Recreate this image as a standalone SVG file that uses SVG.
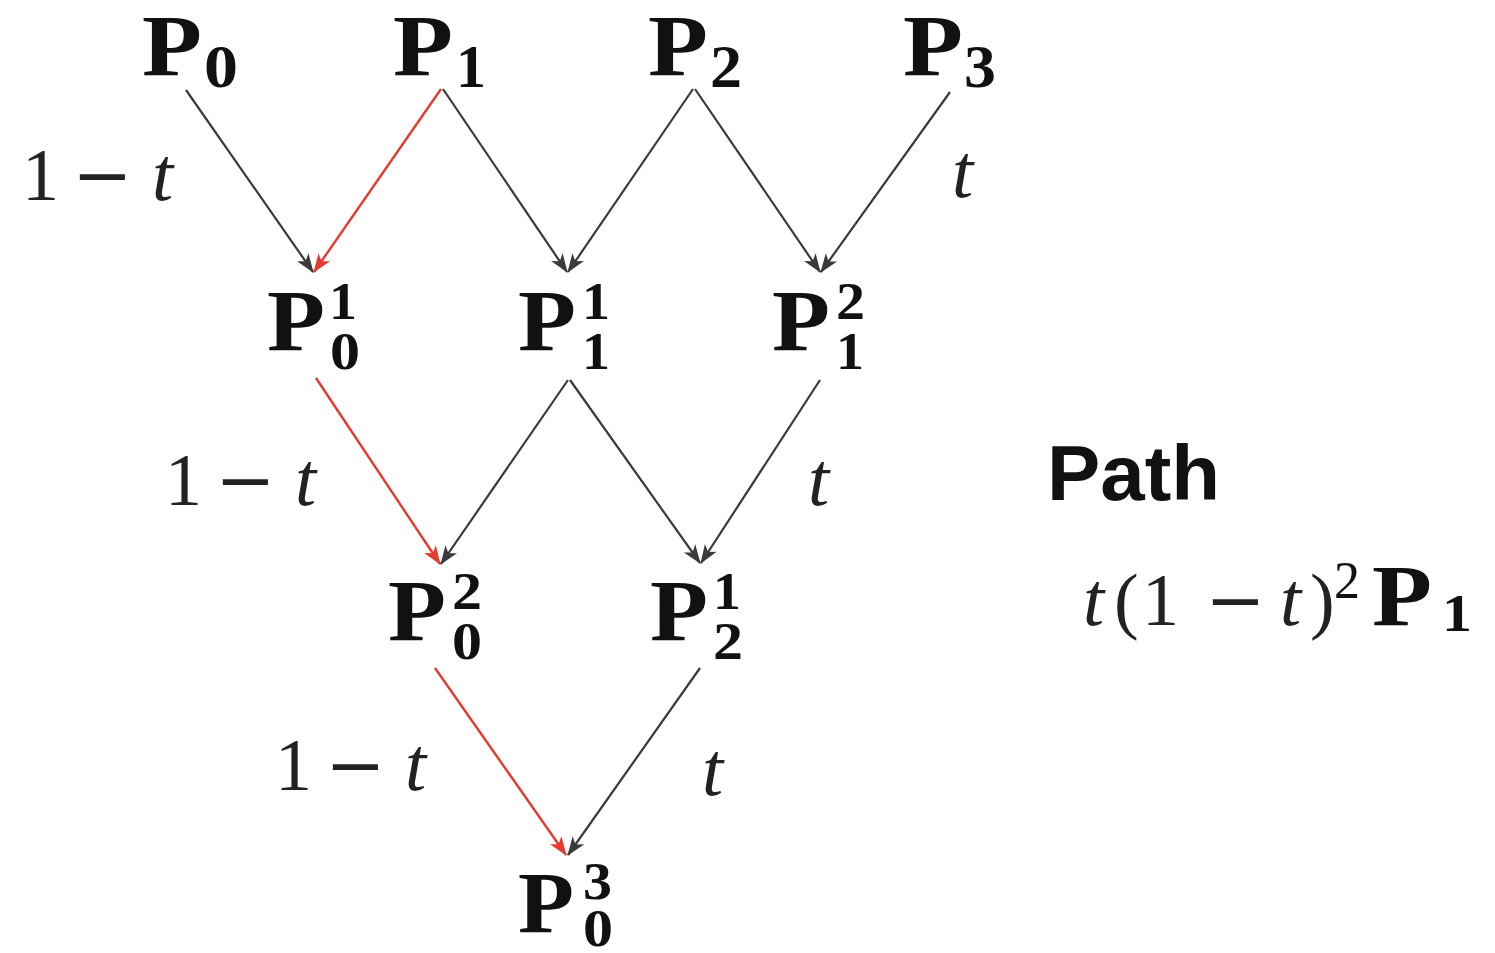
<svg xmlns="http://www.w3.org/2000/svg" width="1495" height="953" viewBox="0 0 1495 953">
<style>
.P{font-family:"Liberation Serif","Times New Roman",serif;font-weight:bold;font-size:86px;fill:#111}
.s{font-family:"Liberation Serif","Times New Roman",serif;font-weight:bold;font-size:52px;fill:#111}
.s0{font-family:"Liberation Serif","Times New Roman",serif;font-weight:bold;font-size:62px;fill:#111}
.n{font-family:"Liberation Serif","Times New Roman",serif;font-size:74px;fill:#222}
.it{font-family:"Liberation Serif","Times New Roman",serif;font-style:italic;font-size:76px;fill:#222}
.m{font-family:"DejaVu Serif",serif;font-size:72px;fill:#222}
.ttl{font-family:"Liberation Sans",Arial,sans-serif;font-weight:bold;font-size:77px;fill:#111}
.k{stroke:#3a3a3a;stroke-width:2.2;fill:none}
.r{stroke:#e53a2e;stroke-width:2.4;fill:none}
</style>
<defs>
<marker id="ak" markerUnits="userSpaceOnUse" markerWidth="20" markerHeight="16" viewBox="0 0 20 16" refX="18" refY="8" orient="auto">
<path d="M0,1 L19,8 L0,15 L5,8 z" fill="#3a3a3a"/>
</marker>
<marker id="ar" markerUnits="userSpaceOnUse" markerWidth="20" markerHeight="16" viewBox="0 0 20 16" refX="18" refY="8" orient="auto">
<path d="M0,1 L19,8 L0,15 L5,8 z" fill="#e53a2e"/>
</marker>
</defs>
<g id="connectors">
<line class="k" x1="186" y1="90" x2="313" y2="272" marker-end="url(#ak)"/>
<line class="r" x1="441" y1="89" x2="314" y2="272" marker-end="url(#ar)"/>
<line class="k" x1="443" y1="89" x2="567" y2="272" marker-end="url(#ak)"/>
<line class="k" x1="693" y1="89" x2="568" y2="272" marker-end="url(#ak)"/>
<line class="k" x1="695" y1="89" x2="820" y2="272" marker-end="url(#ak)"/>
<line class="k" x1="950" y1="92" x2="821" y2="272" marker-end="url(#ak)"/>
<line class="r" x1="316" y1="378" x2="440" y2="564" marker-end="url(#ar)"/>
<line class="k" x1="568" y1="380" x2="441" y2="564" marker-end="url(#ak)"/>
<line class="k" x1="570" y1="380" x2="700" y2="563" marker-end="url(#ak)"/>
<line class="k" x1="820" y1="380" x2="701" y2="563" marker-end="url(#ak)"/>
<line class="r" x1="435" y1="668" x2="566" y2="855" marker-end="url(#ar)"/>
<line class="k" x1="700" y1="668" x2="568" y2="855" marker-end="url(#ak)"/>
</g>
<g id="P0"><text class="P" x="142" y="75" textLength="60" lengthAdjust="spacingAndGlyphs">P</text><text class="s0" x="204" y="87" textLength="34" lengthAdjust="spacingAndGlyphs">0</text></g>
<g id="P1"><text class="P" x="393" y="75" textLength="60" lengthAdjust="spacingAndGlyphs">P</text><text class="s0" x="456" y="87" textLength="30" lengthAdjust="spacingAndGlyphs">1</text></g>
<g id="P2"><text class="P" x="648" y="75" textLength="60" lengthAdjust="spacingAndGlyphs">P</text><text class="s0" x="710" y="87" textLength="32" lengthAdjust="spacingAndGlyphs">2</text></g>
<g id="P3"><text class="P" x="903" y="75" textLength="60" lengthAdjust="spacingAndGlyphs">P</text><text class="s0" x="964" y="87" textLength="32" lengthAdjust="spacingAndGlyphs">3</text></g>
<g id="P01"><text class="P" x="267" y="350" textLength="58" lengthAdjust="spacingAndGlyphs">P</text><text class="s" x="329" y="319" textLength="28" lengthAdjust="spacingAndGlyphs">1</text><text class="s" x="330" y="369" textLength="30" lengthAdjust="spacingAndGlyphs">0</text></g>
<g id="P11"><text class="P" x="518" y="350" textLength="58" lengthAdjust="spacingAndGlyphs">P</text><text class="s" x="582" y="319" textLength="28" lengthAdjust="spacingAndGlyphs">1</text><text class="s" x="582" y="369" textLength="28" lengthAdjust="spacingAndGlyphs">1</text></g>
<g id="P12"><text class="P" x="772" y="350" textLength="58" lengthAdjust="spacingAndGlyphs">P</text><text class="s" x="836" y="319" textLength="29" lengthAdjust="spacingAndGlyphs">2</text><text class="s" x="836" y="369" textLength="28" lengthAdjust="spacingAndGlyphs">1</text></g>
<g id="P02"><text class="P" x="388" y="640" textLength="58" lengthAdjust="spacingAndGlyphs">P</text><text class="s" x="452" y="609" textLength="30" lengthAdjust="spacingAndGlyphs">2</text><text class="s" x="452" y="659" textLength="30" lengthAdjust="spacingAndGlyphs">0</text></g>
<g id="P21"><text class="P" x="650" y="640" textLength="58" lengthAdjust="spacingAndGlyphs">P</text><text class="s" x="713" y="609" textLength="28" lengthAdjust="spacingAndGlyphs">1</text><text class="s" x="713" y="659" textLength="30" lengthAdjust="spacingAndGlyphs">2</text></g>
<g id="P03"><text class="P" x="518" y="932" textLength="56" lengthAdjust="spacingAndGlyphs">P</text><text class="s" x="583" y="899" textLength="29" lengthAdjust="spacingAndGlyphs">3</text><text class="s" x="583" y="946" textLength="30" lengthAdjust="spacingAndGlyphs">0</text></g>
<g id="labels">
<text x="22" y="200"><tspan class="n">1</tspan><tspan class="m" x="72">−</tspan><tspan class="it" x="152">t</tspan></text>
<text class="it" x="952" y="197">t</text>
<text x="165" y="505"><tspan class="n">1</tspan><tspan class="m" x="215">−</tspan><tspan class="it" x="295">t</tspan></text>
<text class="it" x="808" y="505">t</text>
<text x="275" y="790"><tspan class="n">1</tspan><tspan class="m" x="325">−</tspan><tspan class="it" x="405">t</tspan></text>
<text class="it" x="702" y="795">t</text>
</g>
<g id="path-note">
<text class="ttl" x="1047" y="500" textLength="173" lengthAdjust="spacingAndGlyphs">Path</text>
<text y="625"><tspan class="it" x="1083">t</tspan><tspan class="n" x="1114">(</tspan><tspan class="n" x="1142">1</tspan><tspan class="m" x="1205">−</tspan><tspan class="it" x="1280">t</tspan><tspan class="n" x="1310">)</tspan></text>
<text class="s" x="1334" y="598" style="font-weight:normal">2</text>
<text class="P" x="1372" y="625" textLength="60" lengthAdjust="spacingAndGlyphs">P</text>
<text class="s" x="1442" y="631" textLength="30" lengthAdjust="spacingAndGlyphs">1</text>
</g>
</svg>
